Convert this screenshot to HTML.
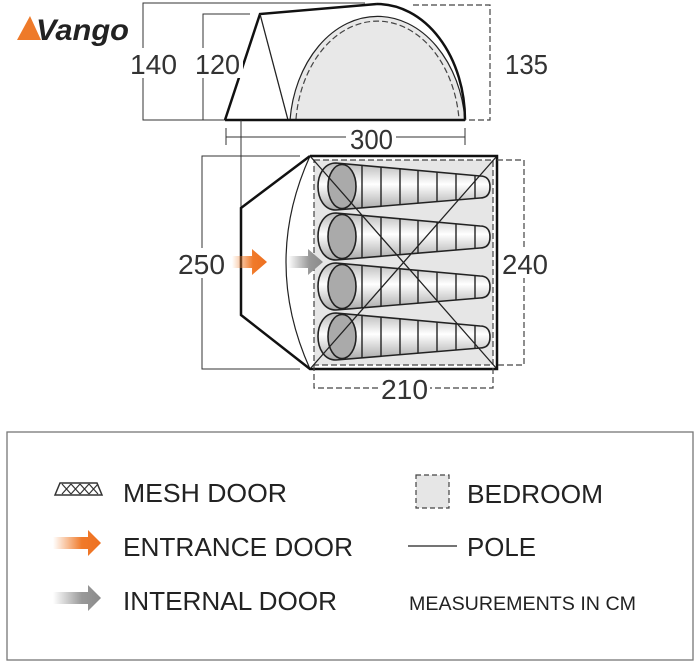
<!DOCTYPE html>
<html><head><meta charset="utf-8"><style>
html,body{margin:0;padding:0;background:#fff;}
svg{display:block;font-family:"Liberation Sans",sans-serif;}
</style></head><body>
<svg width="700" height="667" viewBox="0 0 700 667" xmlns="http://www.w3.org/2000/svg">
<defs>
<linearGradient id="og" x1="0" x2="1" y1="0" y2="0"><stop offset="0" stop-color="#f08030" stop-opacity="0"/><stop offset="0.6" stop-color="#f07a2a"/><stop offset="1" stop-color="#ee7020"/></linearGradient>
<linearGradient id="gg" x1="0" x2="1" y1="0" y2="0"><stop offset="0" stop-color="#999" stop-opacity="0"/><stop offset="0.6" stop-color="#999"/><stop offset="1" stop-color="#8a8a8a"/></linearGradient>
<linearGradient id="bag" x1="0" x2="0" y1="0" y2="1"><stop offset="0" stop-color="#b8b8b8"/><stop offset="0.45" stop-color="#fff"/><stop offset="1" stop-color="#a8a8a8"/></linearGradient>
<g id="sb">
<path d="M336,163 L480,176 Q490,176 490,187 Q490,198 480,198 L336,210 C312,210 312,163 336,163 Z" fill="url(#bag)" stroke="#222" stroke-width="1.6"/>
<ellipse cx="342" cy="186.5" rx="14" ry="22" fill="#aaa" stroke="#222" stroke-width="1.6"/>
<g stroke="#222" stroke-width="1.4">
<line x1="362" y1="165" x2="362" y2="208"/><line x1="381" y1="167" x2="381" y2="206"/><line x1="400" y1="169" x2="400" y2="204"/><line x1="418" y1="170" x2="418" y2="203"/><line x1="437" y1="172" x2="437" y2="201"/><line x1="456" y1="174" x2="456" y2="200"/><line x1="475" y1="175" x2="475" y2="198"/>
</g>
</g>
</defs>

<!-- logo -->
<polygon points="17,40 30,16 41,40" fill="#ee7a2a"/>
<text x="36" y="40" font-size="30" font-weight="bold" font-style="italic" fill="#222" textLength="93" lengthAdjust="spacingAndGlyphs">Vango</text>

<!-- elevation -->
<g fill="none" stroke="#333" stroke-width="1">
<polyline points="365,3 143,3 143,120 225,120"/>
<polyline points="250,14 203,14 203,120"/>
</g>
<path d="M290,120 A88,116 0 0 1 465,120 Z" fill="#e8e8e8" stroke="none"/>
<path d="M296,119 A82,110 0 0 1 459,119" fill="none" stroke="#444" stroke-width="1.2" stroke-dasharray="6,3"/>
<path d="M290,120 A88,116 0 0 1 465,120" fill="none" stroke="#222" stroke-width="1.2"/>
<path d="M377,4 A88,116 0 0 1 465,120" fill="none" stroke="#111" stroke-width="2.5"/>
<polyline points="225,120 260,14 377,4" fill="none" stroke="#111" stroke-width="2.5"/>
<line x1="260" y1="14" x2="288" y2="120" stroke="#222" stroke-width="1.3"/>
<line x1="225" y1="120" x2="465" y2="120" stroke="#111" stroke-width="2.5"/>
<polyline points="413,5 490,5 490,120 465,120" fill="none" stroke="#444" stroke-width="1.2" stroke-dasharray="6,3"/>
<g stroke="#333" stroke-width="1" fill="none">
<line x1="226" y1="137" x2="465" y2="137"/><line x1="226" y1="128" x2="226" y2="145"/><line x1="465" y1="128" x2="465" y2="145"/>
<line x1="241" y1="120" x2="241" y2="208"/>
</g>
<g font-size="28" fill="#333">
<rect x="128" y="48" width="52" height="30" fill="#fff"/>
<text x="130" y="74" textLength="47" lengthAdjust="spacingAndGlyphs">140</text>
<rect x="193" y="48" width="50" height="30" fill="#fff"/>
<text x="195" y="74" textLength="45" lengthAdjust="spacingAndGlyphs">120</text>
<rect x="503" y="48" width="48" height="30" fill="#fff"/>
<text x="505" y="74" textLength="43" lengthAdjust="spacingAndGlyphs">135</text>
<rect x="346" y="125" width="50" height="24" fill="#fff"/>
<text x="350" y="149" textLength="43" lengthAdjust="spacingAndGlyphs">300</text>
</g>

<!-- plan -->
<polyline points="300,156 202,156 202,369 300,369" fill="none" stroke="#333" stroke-width="1"/>
<rect x="314" y="160" width="179" height="205" fill="#e6e6e6"/>
<use href="#sb"/><use href="#sb" y="50"/><use href="#sb" y="100"/><use href="#sb" y="150"/>
<rect x="314" y="160" width="179" height="205" fill="none" stroke="#444" stroke-width="1.2" stroke-dasharray="6,3"/>
<g stroke="#222" stroke-width="1.3"><line x1="310" y1="156" x2="497" y2="369"/><line x1="497" y1="156" x2="310" y2="369"/></g>
<path d="M310,156 Q262,262 310,369" fill="none" stroke="#222" stroke-width="1.2"/>
<polyline points="310,156 241,208 241,315 310,369 497,369 497,156 310,156" fill="none" stroke="#111" stroke-width="2.5"/>
<polyline points="497,160 524,160 524,365 497,365" fill="none" stroke="#444" stroke-width="1.2" stroke-dasharray="6,3"/>
<polyline points="314,365 314,388 493,388 493,365" fill="none" stroke="#444" stroke-width="1.2" stroke-dasharray="6,3"/>
<polygon points="232,256 252,256 252,249 267,262 252,275 252,268 232,268" fill="url(#og)"/>
<polygon points="288,256 308,256 308,249 323,262 308,275 308,268 288,268" fill="url(#gg)"/>
<g font-size="28" fill="#333">
<rect x="176" y="248" width="50" height="30" fill="#fff"/>
<text x="178" y="274" textLength="47" lengthAdjust="spacingAndGlyphs">250</text>
<rect x="500" y="248" width="50" height="30" fill="#fff"/>
<text x="502" y="274" textLength="46" lengthAdjust="spacingAndGlyphs">240</text>
<rect x="378" y="375" width="52" height="28" fill="#fff"/>
<text x="381" y="399" textLength="47" lengthAdjust="spacingAndGlyphs">210</text>
</g>

<!-- legend -->
<rect x="7" y="432" width="686" height="228" fill="#fff" stroke="#777" stroke-width="1.3"/>
<polygon points="55,495 60,483 97,483 102,495" fill="#fff" stroke="#333" stroke-width="1.5"/>
<path d="M62,484 L71,494 M71,484 L62,494 M71,484 L80,494 M80,484 L71,494 M80,484 L89,494 M89,484 L80,494 M89,484 L98,494 M98,484 L89,494" stroke="#333" stroke-width="1.2"/>
<polygon points="53,537 88,537 88,530 101,543 88,556 88,549 53,549" fill="url(#og)"/>
<polygon points="53,592 88,592 88,585 101,598 88,611 88,604 53,604" fill="url(#gg)"/>
<rect x="416" y="475" width="33" height="33" fill="#e6e6e6" stroke="#444" stroke-width="1.2" stroke-dasharray="5,3"/>
<line x1="408" y1="546" x2="457" y2="546" stroke="#222" stroke-width="1.3"/>
<g font-size="26" fill="#222">
<text x="123" y="502" textLength="164" lengthAdjust="spacingAndGlyphs">MESH DOOR</text>
<text x="123" y="556" textLength="230" lengthAdjust="spacingAndGlyphs">ENTRANCE DOOR</text>
<text x="123" y="610" textLength="214" lengthAdjust="spacingAndGlyphs">INTERNAL DOOR</text>
<text x="467" y="503" textLength="136" lengthAdjust="spacingAndGlyphs">BEDROOM</text>
<text x="467" y="556" textLength="69" lengthAdjust="spacingAndGlyphs">POLE</text>
<text x="409" y="610" font-size="19" textLength="227" lengthAdjust="spacingAndGlyphs">MEASUREMENTS IN CM</text>
</g>
</svg>
</body></html>
